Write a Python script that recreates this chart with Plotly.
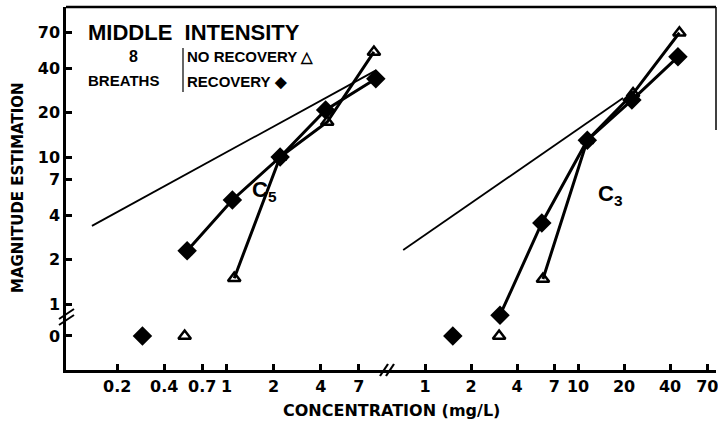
import plotly.graph_objects as go

# ---------------- data ----------------
# Left panel (C5)
c5_rec_x = [0.56, 1.09, 2.2, 4.3, 9.0]
c5_rec_y = [2.3, 5.1, 10.0, 20.9, 34.0]
c5_norec_x = [1.12, 2.2, 4.4, 8.75]
c5_norec_y = [1.5, 10.0, 17.3, 51.8]
c5_rec_zero_x = [0.29]
c5_norec_zero_x = [0.54]
c5_ref_x = [0.138, 8.9]
c5_ref_y = [3.4, 38.5]

# Right panel (C3)
c3_rec_x = [3.09, 5.8, 11.5, 22.5, 45.0]
c3_rec_y = [0.84, 3.56, 13.0, 24.4, 48.0]
c3_norec_x = [5.9, 11.5, 22.9, 46.0]
c3_norec_y = [1.48, 13.0, 27.0, 70.0]
c3_rec_zero_x = [1.52]
c3_norec_zero_x = [3.05]
c3_ref_x = [0.72, 19.7]
c3_ref_y = [2.33, 25.2]

zero_val = [0]

x_left_ticks = [0.2, 0.4, 0.7, 1, 2, 4, 7]
x_left_labels = ["0.2", "0.4", "0.7", "1", "2", "4", "7"]
x_right_ticks = [1, 2, 4, 7, 10, 20, 40, 70]
x_right_labels = ["1", "2", "4", "7", "10", "20", "40", "70"]
y_ticks = [1, 2, 4, 7, 10, 20, 40, 70]
y_labels = ["1", "2", "4", "7", "10", "20", "40", "70"]

# ---------------- geometry helpers ----------------
W, H = 718, 424
L, R, T, B = 66, 2, 7, 54
PW, PH = W - L - R, H - T - B


def px(x):
    return (x - L) / PW


def py(y):
    return (H - B - y) / PH


FONT = "Liberation Sans, Arial, sans-serif"
WIDE = "DejaVu Sans, Verdana, sans-serif"
BLACK = "#000000"

fig = go.Figure()

diamond = dict(symbol="diamond", size=15, color=BLACK)
tri = dict(symbol="triangle-up-open", size=11, color=BLACK, line=dict(width=2.5, color=BLACK))

# reference thin lines
fig.add_trace(go.Scatter(x=c5_ref_x, y=c5_ref_y, mode="lines", line=dict(color=BLACK, width=1.8),
                         xaxis="x", yaxis="y", showlegend=False, hoverinfo="skip"))
fig.add_trace(go.Scatter(x=c3_ref_x, y=c3_ref_y, mode="lines", line=dict(color=BLACK, width=1.8),
                         xaxis="x2", yaxis="y", showlegend=False, hoverinfo="skip"))

# data lines
for xs, ys, mk, xa in [
    (c5_rec_x, c5_rec_y, diamond, "x"),
    (c5_norec_x, c5_norec_y, tri, "x"),
    (c3_rec_x, c3_rec_y, diamond, "x2"),
    (c3_norec_x, c3_norec_y, tri, "x2"),
]:
    fig.add_trace(go.Scatter(x=xs, y=ys, mode="lines+markers", line=dict(color=BLACK, width=3),
                             marker=mk, xaxis=xa, yaxis="y", showlegend=False, cliponaxis=False))

# zero points
for xs, mk, xa in [
    (c5_rec_zero_x, diamond, "x"),
    (c5_norec_zero_x, tri, "x"),
    (c3_rec_zero_x, diamond, "x2"),
    (c3_norec_zero_x, tri, "x2"),
]:
    fig.add_trace(go.Scatter(x=xs, y=zero_val * len(xs), mode="markers", marker=mk,
                             xaxis=xa, yaxis="y3", showlegend=False, cliponaxis=False))

brk = py(317)
xbrk = px(388)

tickfont = dict(family=WIDE, size=16, color=BLACK, weight="bold")
axis_common = dict(showgrid=False, zeroline=False, showline=True, linecolor=BLACK, linewidth=2.5,
                   ticks="inside", ticklen=6, tickwidth=2.5, tickcolor=BLACK, tickfont=tickfont,
                   automargin=False, ticklabeloverflow="allow")

fig.update_layout(
    width=W, height=H,
    margin=dict(l=L, r=R, t=T, b=B, autoexpand=False),
    paper_bgcolor="white", plot_bgcolor="white",
    font=dict(family=FONT, color=BLACK),
    xaxis=dict(type="log", domain=[0, xbrk], range=[-1.026, 1.032], anchor="y3",
               tickvals=x_left_ticks, ticktext=x_left_labels, **axis_common),
    xaxis2=dict(type="log", domain=[xbrk, 1], range=[-0.242, 1.902], anchor="y3",
                tickvals=x_right_ticks, ticktext=x_right_labels, **axis_common),
    yaxis=dict(type="log", domain=[brk, 1], range=[-0.088, 2.020], anchor="x",
               tickvals=y_ticks, ticktext=y_labels, **axis_common),
    yaxis3=dict(type="linear", domain=[0, brk], range=[-1.8, 1], anchor="x",
                tickvals=[0], ticktext=["0"], **axis_common),
)

shapes = []
# top border and partial right border
shapes.append(dict(type="line", xref="paper", yref="paper", x0=0, x1=1, y0=1, y1=1,
                   line=dict(color=BLACK, width=2.5)))
shapes.append(dict(type="line", xref="paper", yref="paper", x0=1, x1=1, y0=1, y1=py(130),
                   line=dict(color=BLACK, width=1.5)))
# legend separator
shapes.append(dict(type="line", xref="paper", yref="paper", x0=px(183), x1=px(183), y0=py(48), y1=py(92),
                   line=dict(color=BLACK, width=1.2)))
# y axis break marks
for dy in (-3, 3):
    shapes.append(dict(type="line", xref="paper", yref="paper",
                       x0=px(59), y0=py(322 + dy), x1=px(74), y1=py(312 + dy),
                       line=dict(color=BLACK, width=2)))
# x axis break marks
for dx in (-3, 3):
    shapes.append(dict(type="line", xref="paper", yref="paper",
                       x0=px(383 + dx), y0=py(376), x1=px(391 + dx), y1=py(364),
                       line=dict(color=BLACK, width=2.2)))
fig.update_layout(shapes=shapes)

ann = []


def text(x, y, s, size, xanchor="left", angle=0, family=FONT):
    ann.append(dict(x=px(x), y=py(y), xref="paper", yref="paper", text=s, showarrow=False,
                    xanchor=xanchor, yanchor="middle", textangle=angle,
                    font=dict(family=family, size=size, color=BLACK, weight="bold")))


text(86, 33, "MIDDLE  INTENSITY", 22)
text(133, 57, "8", 16, "center")
text(86, 80, "BREATHS", 15)
text(185, 56, "NO RECOVERY △", 15)
text(185, 82, "RECOVERY ◆", 15)
text(264, 191, "C<sub>5</sub>", 22, "center")
text(610, 195, "C<sub>3</sub>", 22, "center")
text(18, 188, "MAGNITUDE ESTIMATION", 15, "center", -90, WIDE)
text(391, 411, "CONCENTRATION (mg/L)", 16, "center", 0, WIDE)
fig.update_layout(annotations=ann)

fig.write_html("out.html", config={"displayModeBar": False},
               post_script="document.body.style.margin='0px';")
